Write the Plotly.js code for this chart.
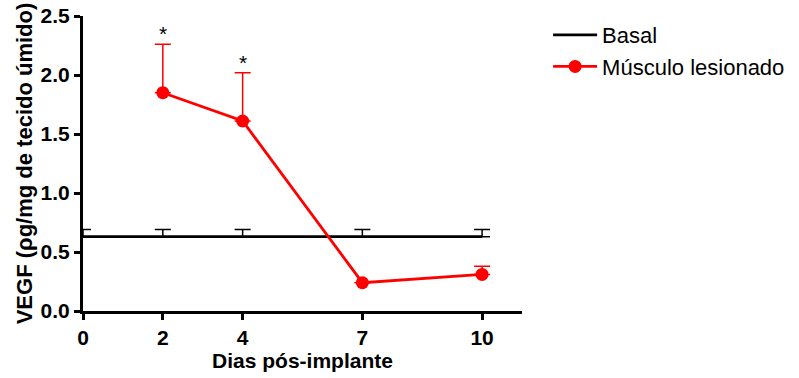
<!DOCTYPE html>
<html><head><meta charset="utf-8">
<script src="https://cdn.plot.ly/plotly-3.0.1.min.js"></script>
<style>body{margin:0;padding:0;background:#fff}#chart{width:799px;height:378px}</style>
</head><body><div id="chart"></div>
<script>
const days = [0, 2, 4, 7, 10];
const basalMean = [0.63, 0.63, 0.63, 0.63, 0.63];
const basalErr = [0.06, 0.06, 0.06, 0.06, 0.06];
const lesDays = [2, 4, 7, 10];
const lesMean = [1.85, 1.61, 0.24, 0.31];
const lesErr = [0.41, 0.41, 0.0, 0.07];
const sigDays = [2, 4];
const sigLabel = '*';

const FONT = 'Liberation Sans, Arial';
const traces = [
  {x: days, y: basalMean, name: 'Basal', mode: 'lines', type: 'scatter',
   line: {color: '#000', width: 2.8},
   error_y: {type: 'data', array: basalErr, symmetric: false, arrayminus: basalErr.map(()=>0), color: '#000', thickness: 1.5, width: 8}},
  {x: lesDays, y: lesMean, name: 'Músculo lesionado', mode: 'lines+markers', type: 'scatter',
   line: {color: '#ff0000', width: 2.8}, marker: {color: '#ff0000', size: 13},
   error_y: {type: 'data', array: lesErr, symmetric: false, arrayminus: lesErr.map(()=>0), color: '#ff0000', thickness: 1.5, width: 8}}
];

const annotations = sigDays.map(d => {
  const i = lesDays.indexOf(d);
  return {x: d, y: lesMean[i] + lesErr[i], text: sigLabel, showarrow: false, yanchor: 'bottom', yshift: -3,
          font: {family: FONT, size: 21, color: '#000'}};
});

const axisCommon = {showline: true, linecolor: '#000', linewidth: 3, ticks: 'outside', ticklen: 6, tickwidth: 3, tickcolor: '#000',
  showgrid: false, zeroline: false, tickfont: {family: FONT, size: 21, color: '#000', weight: 'bold'}};

const layout = {
  width: 799, height: 378,
  margin: {l: 83, r: 277, t: 16, b: 67},
  paper_bgcolor: '#fff', plot_bgcolor: '#fff',
  font: {family: FONT, color: '#000'},
  xaxis: Object.assign({}, axisCommon, {range: [0, 11], tickvals: days, ticktext: days.map(String),
    title: {text: '<b>Dias pós-implante</b>', font: {size: 21, family: FONT}, standoff: 6}}),
  yaxis: Object.assign({}, axisCommon, {range: [0, 2.5], tickvals: [0, 0.5, 1.0, 1.5, 2.0, 2.5], tickformat: '.1f',
    title: {text: '<b>VEGF (ρg/mg de tecido úmido)</b>', font: {size: 22, family: FONT}, standoff: 2}}),
  showlegend: true,
  legend: {xref: 'container', yref: 'container', x: 0.686, y: 0.963, xanchor: 'left', yanchor: 'top', itemwidth: 44,
           font: {size: 22, family: FONT, color: '#000'}, tracegroupgap: 6},
  annotations: annotations
};
Plotly.newPlot('chart', traces, layout, {displayModeBar: false, staticPlot: true});
</script></body></html>
